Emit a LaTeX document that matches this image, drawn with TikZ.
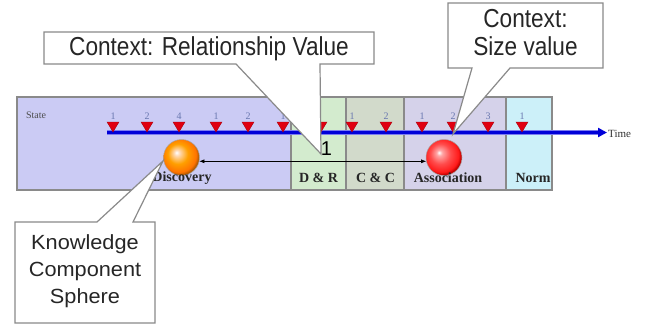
\documentclass[tikz,border=0pt]{standalone}
\usepackage{fontspec}
\setmainfont{Liberation Serif}
\newfontfamily\arialf{Liberation Sans}
\usetikzlibrary{arrows.meta,shadings}
\definecolor{bandA}{HTML}{CBCBF4}
\definecolor{bandB}{HTML}{D3EBCE}
\definecolor{bandC}{HTML}{D2DACB}
\definecolor{bandD}{HTML}{D5D2EA}
\definecolor{bandE}{HTML}{CCF0F9}
\definecolor{edgec}{HTML}{8A8A8A}
\definecolor{tlc}{HTML}{0000D8}
\definecolor{tlight}{HTML}{7C7CF0}
\definecolor{mred}{HTML}{E00010}
\definecolor{numc}{HTML}{6A78B0}
\pgfdeclareradialshading{orangeball}{\pgfpoint{-7bp}{7bp}}{%
  color(0bp)=(white); color(4bp)=(white!70!orange); color(14bp)=(orange!75!yellow);
  color(24bp)=(orange!90!red); color(27bp)=(orange!70!black); color(50bp)=(orange!70!black)}
\pgfdeclareradialshading{redball}{\pgfpoint{-7bp}{7bp}}{%
  color(0bp)=(white); color(4bp)=(white!65!red); color(14bp)=(red!70!white);
  color(24bp)=(red!90!white); color(27bp)=(red!75!black); color(50bp)=(red!75!black)}
\begin{document}
\begin{tikzpicture}[x=1pt,y=-1pt,
  sect/.style={draw=edgec, line width=1.1pt},
  callout/.style={fill=white, draw=edgec, line width=1.2pt, line join=miter},
  bandlabel/.style={font=\fontsize{14}{14}\selectfont\bfseries, text=black!85, inner sep=0pt},
  num/.style={font=\fontsize{10}{10}\selectfont, text=numc, inner sep=0pt},
  mk/.style={fill=mred, draw=mred!70!black, line width=0.3pt},
  sphere/.style={circle, minimum size=36pt, inner sep=0pt, draw=gray!70, line width=0.5pt},
  ctext/.style={font=\arialf\fontsize{26}{28}\selectfont, inner sep=0pt, text=black!85},
  ktext/.style={font=\arialf\fontsize{20.5}{27}\selectfont, inner sep=0pt, text=black!85}
]
\useasboundingbox (0,0) rectangle (646,325);
\fill[white] (0,0) rectangle (646,325);

% band sections
\path[sect, fill=bandA] (17,97) rectangle (291,190);
\path[sect, fill=bandB] (291,97) rectangle (346,190);
\path[sect, fill=bandC] (346,97) rectangle (404,190);
\path[sect, fill=bandD] (404,97) rectangle (506,190);
\path[sect, fill=bandE] (506,97) rectangle (552,190);

\node[font=\fontsize{10}{10}\selectfont, text=black!70, inner sep=0pt] (state) at (36,115) {State};

% timeline
\coordinate (tstart) at (107,132.5);
\coordinate (tend) at (607,132.5);
\draw[line width=5pt, tlight] (tstart) -- ([xshift=-6pt]tend);
\draw[line width=3pt, tlc, -{Triangle[length=9pt,width=9pt]}] (tstart) -- (tend);
\node[anchor=west, font=\fontsize{11}{11}\selectfont, text=black!80, inner sep=0pt] (time) at (608,134) {Time};

% markers
\foreach \x/\n in {113/1,147/2,179/4,216/1,248/2,283/1,321/{},352/1,386/2,422/1,453/2,488/3,522/1}{
  \path[mk] (\x-6,122) -- (\x+6,122) -- (\x,132) -- cycle;
  \node[num] at (\x,116) {\n};
}

% spheres
\node[sphere, shading=orangeball] (kc) at (181.5,157.5) {};
\node[sphere, shading=redball] (as) at (444,157.5) {};
\draw[line width=0.6pt, {Latex[length=5pt,width=4pt]}-{Latex[length=5pt,width=4pt]}] (kc.-12) -- (as.192);

% band labels
\node[bandlabel] (ldisc) at (182,178) {Discovery};
\node[bandlabel] (ldr) at (318.5,178) {D \& R};
\node[bandlabel] (lcc) at (375.5,178) {C \& C};
\node[bandlabel] (las) at (448,178) {Association};
\node[bandlabel] (lnorm) at (533,178) {Norm};

% callouts
\path[callout] (44,32) -- (374,32) -- (374,64) -- (320,64) -- (321,154) -- (236,64) -- (44,64) -- cycle;
\node[ctext] (crel) at (209,48.5) {\scalebox{0.87}[1]{Context: Relationship Value}};

\path[callout] (448,3) -- (603,3) -- (603,68) -- (510,68) -- (453,134) -- (472,68) -- (448,68) -- cycle;
\node[ctext] (csize) at (525.5,36) {\scalebox{0.87}[1]{\begin{tabular}{@{}c@{}}Context:\\Size value\end{tabular}}};

\path[callout] (15,222) -- (97,222) -- (163,161) -- (133,222) -- (155,222) -- (155,323) -- (15,323) -- cycle;
\node[ktext] (ksph) at (85,271) {\scalebox{1.06}[1]{\begin{tabular}{@{}c@{}}Knowledge\\Component\\Sphere\end{tabular}}};

\node[font=\arialf\fontsize{20}{20}\selectfont, inner sep=0pt] (one) at (326.5,149) {1};
\end{tikzpicture}
\end{document}
